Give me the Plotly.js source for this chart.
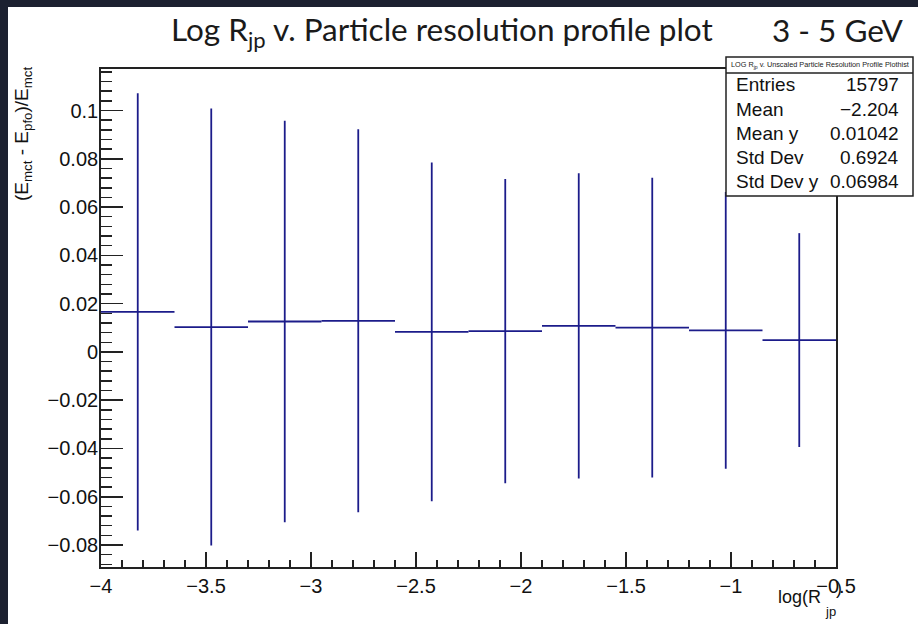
<!DOCTYPE html>
<html>
<head>
<meta charset="utf-8">
<script src="https://cdn.plot.ly/plotly-3.0.1.min.js"></script>
<style>
  html, body { margin: 0; padding: 0; background: #1c2130; width: 918px; height: 624px; overflow: hidden; }
  #chart { position: absolute; left: 8px; top: 7px; width: 910px; height: 617px; }
</style>
</head>
<body>
<div id="chart"></div>
<script>
// ---- data ----
const binCenters = [-3.825, -3.475, -3.125, -2.775, -2.425, -2.075, -1.725, -1.375, -1.025, -0.675];
const binHalfWidth = 0.175;
const binMeans   = [0.0166, 0.0103, 0.0126, 0.0129, 0.0083, 0.0086, 0.0108, 0.0101, 0.0089, 0.0049];
const binSpreads = [0.0906, 0.0905, 0.0832, 0.0793, 0.0702, 0.0630, 0.0632, 0.0621, 0.0573, 0.0443];

const statsLabels = ["Entries", "Mean", "Mean y", "Std Dev", "Std Dev y"];
const statsValues = ["15797", "\u22122.204", "0.01042", "0.6924", "0.06984"];
const statsTitle = "LOG R<sub>jp</sub> v. Unscaled Particle Resolution Profile Plothist";

const W = 910, H = 617;
const M = {l: 93, r: 82, t: 62, b: 57};
const pw = W - M.l - M.r, ph = H - M.t - M.b;
const px = x => (x - M.l) / pw;          // div pixel -> paper x
const py = y => 1 - (y - M.t) / ph;      // div pixel -> paper y

const navy = "#1c1c8a";
const sans = "Liberation Sans, Arial, sans-serif";
const axisFont = {family: sans, size: 20, color: "#111"};

const trace = {
  type: "scatter",
  mode: "markers",
  x: binCenters,
  y: binMeans,
  marker: {size: 1, color: navy},
  error_x: {type: "constant", value: binHalfWidth, width: 0, thickness: 1.8, color: navy},
  error_y: {type: "data", array: binSpreads, width: 0, thickness: 1.8, color: navy},
  hoverinfo: "x+y"
};

// stats box geometry (div pixels)
const bx0 = 718, bx1 = 905, by0 = 50, bsep = 66, by1 = 189;
const rowY = [78, 102, 126, 150, 175];

const shapes = [
  {type: "rect", xref: "paper", yref: "paper", x0: px(bx0), x1: px(bx1), y0: py(by1), y1: py(by0),
   fillcolor: "white", line: {color: "#222", width: 1.5}, layer: "above"},
  {type: "line", xref: "paper", yref: "paper", x0: px(bx0), x1: px(bx1), y0: py(bsep), y1: py(bsep),
   line: {color: "#222", width: 1.5}, layer: "above"}
];

const titleFont = {family: "Lato, sans-serif", size: 31.5, color: "#1a1a1a"};
const annotations = [
  {text: "Log R<sub>jp</sub> v. Particle resolution profile plot", xref: "paper", yref: "paper",
   x: px(161), y: py(25), xanchor: "left", yanchor: "middle", showarrow: false, font: titleFont},
  {text: "3 - 5 GeV", xref: "paper", yref: "paper",
   x: px(898), y: py(23), xanchor: "right", yanchor: "middle", showarrow: false, font: titleFont},
  {text: statsTitle, xref: "paper", yref: "paper",
   x: px((bx0 + bx1) / 2), y: py((by0 + bsep) / 2), xanchor: "center", yanchor: "middle", showarrow: false,
   font: {family: sans, size: 7.3, color: "#222"}},
  {text: "(E<sub>mct</sub> - E<sub>pfo</sub>)/E<sub>mct</sub>", xref: "paper", yref: "paper",
   x: px(1), y: py(58), xanchor: "left", yanchor: "top", textangle: -90, showarrow: false,
   font: {family: sans, size: 19, color: "#111"}},
  {text: "log(R", xref: "paper", yref: "paper",
   x: px(815), y: py(590), xanchor: "right", yanchor: "middle", showarrow: false,
   font: {family: sans, size: 18, color: "#111"}},
  {text: "jp", xref: "paper", yref: "paper",
   x: px(815), y: py(604), xanchor: "left", yanchor: "middle", showarrow: false,
   font: {family: sans, size: 13, color: "#111"}},
  {text: ")", xref: "paper", yref: "paper",
   x: px(826), y: py(581), xanchor: "left", yanchor: "middle", showarrow: false,
   font: {family: sans, size: 18, color: "#111"}}
];
statsLabels.forEach((lab, i) => {
  annotations.push({text: lab, xref: "paper", yref: "paper", x: px(726), y: py(rowY[i]),
    xanchor: "left", yanchor: "middle", showarrow: false,
    font: {family: sans, size: 19, color: "#111"}});
  annotations.push({text: statsValues[i], xref: "paper", yref: "paper", x: px(893), y: py(rowY[i]),
    xanchor: "right", yanchor: "middle", showarrow: false,
    font: {family: sans, size: 19, color: "#111"}});
});

const layout = {
  width: W, height: H,
  margin: M,
  paper_bgcolor: "white",
  plot_bgcolor: "white",
  showlegend: false,
  xaxis: {
    range: [-4, -0.5], tick0: -4, dtick: 0.5,
    ticks: "inside", ticklen: 15, tickwidth: 1.5, tickcolor: "#222",
    minor: {dtick: 0.1, ticks: "inside", ticklen: 7, tickwidth: 1.5, tickcolor: "#222"},
    showline: true, linecolor: "#222", linewidth: 1.8, mirror: true,
    showgrid: false, zeroline: false, tickfont: axisFont
  },
  yaxis: {
    range: [-0.0891, 0.1172], tick0: 0, dtick: 0.02,
    ticks: "inside", ticklen: 22, tickwidth: 1.5, tickcolor: "#222",
    minor: {dtick: 0.004, ticks: "inside", ticklen: 11, tickwidth: 1.5, tickcolor: "#222"},
    showline: true, linecolor: "#222", linewidth: 1.8, mirror: true,
    showgrid: false, zeroline: false, tickfont: axisFont, ticklabelstandoff: -3
  },
  shapes: shapes,
  annotations: annotations
};

Plotly.newPlot("chart", [trace], layout, {displayModeBar: false, staticPlot: true});
</script>
</body>
</html>
